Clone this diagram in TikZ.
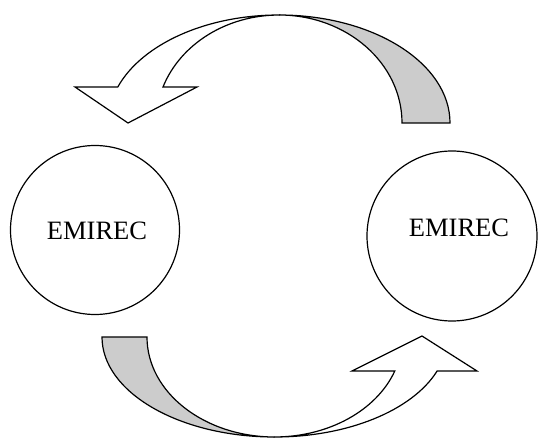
\documentclass[tikz,border=0pt]{standalone}
\usepackage{fontspec}
\setmainfont{Liberation Serif}
\definecolor{bandgray}{RGB}{204,204,204}
\begin{document}
\begin{tikzpicture}[x=1pt,y=1pt,
  ring/.style={circle,draw=black,line width=1.2pt,inner sep=0pt},
  lbl/.style={font=\fontsize{26.5}{30}\selectfont,inner sep=0pt},
  band/.style={draw=black,line width=1.2pt,line join=miter}]
\useasboundingbox (0,0) rectangle (539,440);
% circles
\node[ring,minimum size=169] (L) at (95,210) {};
\node[ring,minimum size=170] (R) at (452,204) {};
\node[lbl] (Lt) at (97,209) {EMIREC};
\node[lbl] (Rt) at (459,212) {EMIREC};
% top arrow: gray back band
\fill[bandgray] (450,317) arc[start angle=0,end angle=90,x radius=171,y radius=108]
  arc[start angle=90,end angle=0,x radius=123,y radius=108] -- cycle;
\draw[band] (450,317) arc[start angle=0,end angle=90,x radius=171,y radius=108]
  arc[start angle=90,end angle=0,x radius=123,y radius=108] -- cycle;
% top arrow: white front band with head
\draw[band,fill=white] (279,425) arc[start angle=90,end angle=160.5,x radius=171,y radius=108]
  -- (75,353) -- (128,317) -- (197,353) -- (163,353)
  arc[start angle=160.5,end angle=90,x radius=123,y radius=108] -- cycle;
% bottom arrow: gray back band
\fill[bandgray] (102,103) arc[start angle=180,end angle=270,x radius=172.7,y radius=100]
  arc[start angle=270,end angle=180,x radius=127.7,y radius=100] -- cycle;
\draw[band] (102,103) arc[start angle=180,end angle=270,x radius=172.7,y radius=100]
  arc[start angle=270,end angle=180,x radius=127.7,y radius=100] -- cycle;
% bottom arrow: white front band with head
\draw[band,fill=white] (274.7,3) arc[start angle=270,end angle=340.1,x radius=172.7,y radius=100]
  -- (477,69) -- (422,104) -- (352,69) -- (394.8,69)
  arc[start angle=340.1,end angle=270,x radius=127.7,y radius=100] -- cycle;
\end{tikzpicture}
\end{document}
